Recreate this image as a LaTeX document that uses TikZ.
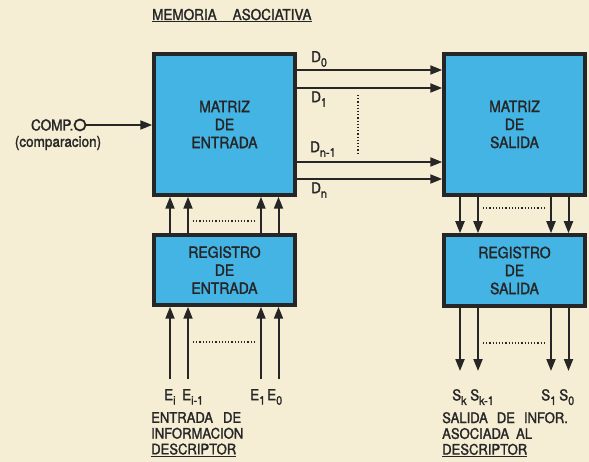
\documentclass[tikz,border=0pt]{standalone}
\usepackage{fontspec}
\setmainfont{TeX Gyre Heros}[FakeBold=1.6,FakeStretch=0.9]
\usetikzlibrary{arrows.meta,positioning}
\definecolor{paper}{HTML}{F5EED5}
\definecolor{boxblue}{HTML}{43B4E4}
\definecolor{ink}{HTML}{262626}
\newcommand{\subidx}[1]{\raisebox{-4.5pt}{\fontsize{12}{12}\selectfont #1}}

\begin{document}
\begin{tikzpicture}[x=1pt,y=-1pt,
  block/.style={draw=ink,line width=3.5pt,fill=boxblue,minimum width=141pt,align=center,text=ink,font=\fontsize{15.5}{18}\selectfont},
  wire/.style={-{Triangle[length=12pt,width=9pt]},line width=2pt,draw=ink},
  dots/.style={dotted,line width=1.2pt,draw=ink},
  lbl/.style={font=\fontsize{15}{16}\selectfont,text=ink,inner sep=0pt},
  note/.style={font=\fontsize{14.5}{15.8}\selectfont,text=ink,inner sep=0pt,align=left,anchor=north west}]
  \fill[paper] (0,0) rectangle (589,462);
  \useasboundingbox (0,0) rectangle (589,462);

  \node[lbl,anchor=base west] (titulo) at (152,20) {\underline{MEMORIA\hspace{16pt}ASOCIATIVA}};

  % bloques
  \node[block,minimum height=141pt] (me) at (224.5,124.5) {MATRIZ\\DE\\ENTRADA};
  \node[block,minimum height=70pt] (re) at (224.5,270) {REGISTRO\\DE\\ENTRADA};
  \node[block,minimum height=141pt] (ms) at (514.5,124.5) {MATRIZ\\DE\\SALIDA};
  \node[block,minimum height=71pt] (rs) at (514.5,270.5) {REGISTRO\\DE\\SALIDA};

  % entrada de comparacion
  \node[circle,draw=ink,line width=1.8pt,minimum size=11pt,inner sep=0pt] (comp) at (80,125) {};
  \node[lbl,anchor=east] (complbl) at (comp.west) {COMP.};
  \node[lbl] (compdesc) at (58,143) {(comparacion)};
  \draw[wire] (comp.east) -- (comp -| me.west);

  % lineas D
  \foreach \y in {70,88,162,179}
    \draw[wire] (me.east |- 0,\y) -- (ms.west |- 0,\y);
  \node[lbl,anchor=west] (d0) at (311,59) {D\subidx{0}};
  \node[lbl,anchor=west] (d1) at (311,99) {D\subidx{1}};
  \node[lbl,anchor=west] (dn1) at (310,149) {D\subidx{n-1}};
  \node[lbl,anchor=west] (dn) at (311,190) {D\subidx{n}};
  \draw[dots] (358,95) -- (358,155);

  % registro -> matriz
  \foreach \dx in {-54.5,-36.5,36.5,54} {
    \draw[wire] ([xshift=\dx pt]re.north) -- ([xshift=\dx pt]me.south);
    \draw[wire] ([xshift=\dx pt]ms.south) -- ([xshift=\dx pt]rs.north);
  }
  \draw[dots] (193,221) -- (256,221);
  \draw[dots] (483,208) -- (546,208);

  % entradas
  \foreach \n/\x in {ei/170,eim/188,eone/261,ezero/278.5} {
    \coordinate (\n) at (\x,379);
    \draw[wire] (\n) -- (\n |- re.south);
  }
  \draw[dots] (193,342) -- (256,342);
  \node[lbl,anchor=north west] (lei) at (164,389) {E\subidx{i}};
  \node[lbl,anchor=north west] (leim) at (182,389) {E\subidx{i-1}};
  \node[lbl,anchor=north west] (leone) at (250,389) {E\subidx{1}};
  \node[lbl,anchor=north west] (lezero) at (267,389) {E\subidx{0}};
  \node[note] (entinfo) at (151,412) {ENTRADA\hspace{10pt}DE\\INFORMACION\\\underline{DESCRIPTOR}};

  % salidas
  \foreach \n/\x in {sk/460,skm/478,sone/551,szero/568.5} {
    \coordinate (\n) at (\x,371);
    \draw[wire] (\n |- rs.south) -- (\n);
  }
  \draw[dots] (483,343) -- (546,343);
  \node[lbl,anchor=north west] (lsk) at (452,389) {S\subidx{k}};
  \node[lbl,anchor=north west] (lskm) at (470,389) {S\subidx{k-1}};
  \node[lbl,anchor=north west] (lsone) at (541,389) {S\subidx{1}};
  \node[lbl,anchor=north west] (lszero) at (559,389) {S\subidx{0}};
  \node[note] (salinfo) at (442,412) {SALIDA\hspace{9pt}DE\hspace{9pt}INFOR.\\ASOCIADA\hspace{7pt}AL\\\underline{DESCRIPTOR}};
\end{tikzpicture}
\end{document}
